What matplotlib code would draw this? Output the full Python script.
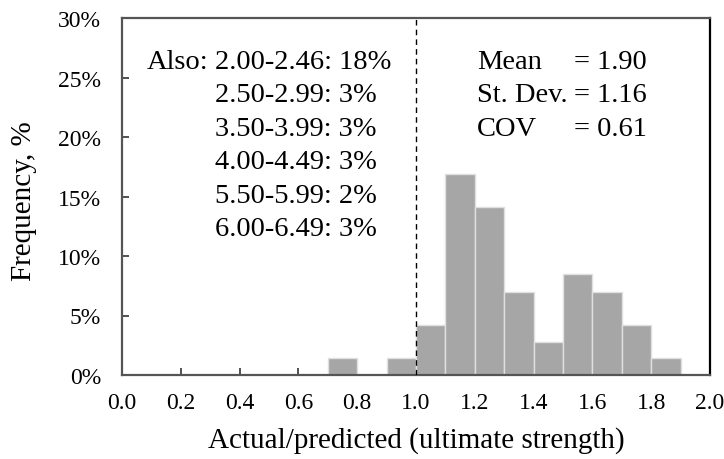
import numpy as np
import matplotlib.pyplot as plt
from matplotlib.ticker import FuncFormatter

# histogram bins (left edges) and frequency in %
bin_left = [0.7, 0.9, 1.0, 1.1, 1.2, 1.3, 1.4, 1.5, 1.6, 1.7, 1.8]
freq_pct = [1.4, 1.4, 4.2, 16.9, 14.1, 7.0, 2.8, 8.5, 7.0, 4.2, 1.4]
bin_width = 0.1

also_lines = ["2.00-2.46: 18%", "2.50-2.99: 3%", "3.50-3.99: 3%",
              "4.00-4.49: 3%", "5.50-5.99: 2%", "6.00-6.49: 3%"]
stat_names = ["Mean", "St. Dev.", "COV"]
stat_values = ["1.90", "1.16", "0.61"]

plt.rcParams['font.family'] = ['Liberation Serif', 'DejaVu Serif']

fig = plt.figure(figsize=(7.24, 4.6), dpi=100)
# axes box in pixels: x 122..710, y 19..376 (from top)
ax = fig.add_axes([122 / 724, 1 - 376 / 460, 588 / 724, 357 / 460])

ax.bar(bin_left, freq_pct, width=bin_width, align='edge',
       color='#a6a6a6', edgecolor='#e0e0e0', linewidth=1.0, zorder=2)
ax.axvline(1.0, color='black', linewidth=1.0, linestyle=(0, (4, 3)), zorder=3)

ax.set_xlim(0, 2.0)
ax.set_ylim(0, 30)
ax.set_xticks(np.arange(0, 2.01, 0.2))
ax.set_yticks(np.arange(0, 31, 5))
ax.xaxis.set_major_formatter(FuncFormatter(lambda v, p: "%.1f" % v))
ax.yaxis.set_major_formatter(FuncFormatter(lambda v, p: "%d%%" % round(v)))
ax.tick_params(direction='in', length=5, width=1.2, labelsize=17,
               color='#333333')
ax.tick_params(axis='x', pad=12)
ax.tick_params(axis='y', pad=15)

for side in ['left', 'top', 'bottom']:
    ax.spines[side].set_color('#555555')
    ax.spines[side].set_linewidth(1.6)
ax.spines['right'].set_color('black')
ax.spines['right'].set_linewidth(1.6)

ax.set_xlabel("Actual/predicted (ultimate strength)", fontsize=21)
ax.set_ylabel("Frequency, %", fontsize=21)
ax.xaxis.set_label_coords(0.5, -0.143)
ax.yaxis.set_label_coords(-0.1445, 0.49)

# annotation text, line centres in pixels from top of figure
line_gap = 33.6
y0 = 62
for i, s in enumerate(also_lines):
    yf = (376 - (y0 + i * line_gap)) / 357
    ax.text(0.158, yf, s, transform=ax.transAxes, fontsize=20.5,
            ha='left', va='center')
ax.text(0.0425, (376 - y0) / 357, "Also:", transform=ax.transAxes,
        fontsize=20.5, ha='left', va='center')

for i, (n, v) in enumerate(zip(stat_names, stat_values)):
    yf = (376 - (y0 + i * line_gap)) / 357
    ax.text(0.604, yf, n, transform=ax.transAxes, fontsize=20.5,
            ha='left', va='center')
    ax.text(0.769, yf, "= " + v, transform=ax.transAxes, fontsize=20.5,
            ha='left', va='center')

fig.savefig("out.png", dpi=100)
